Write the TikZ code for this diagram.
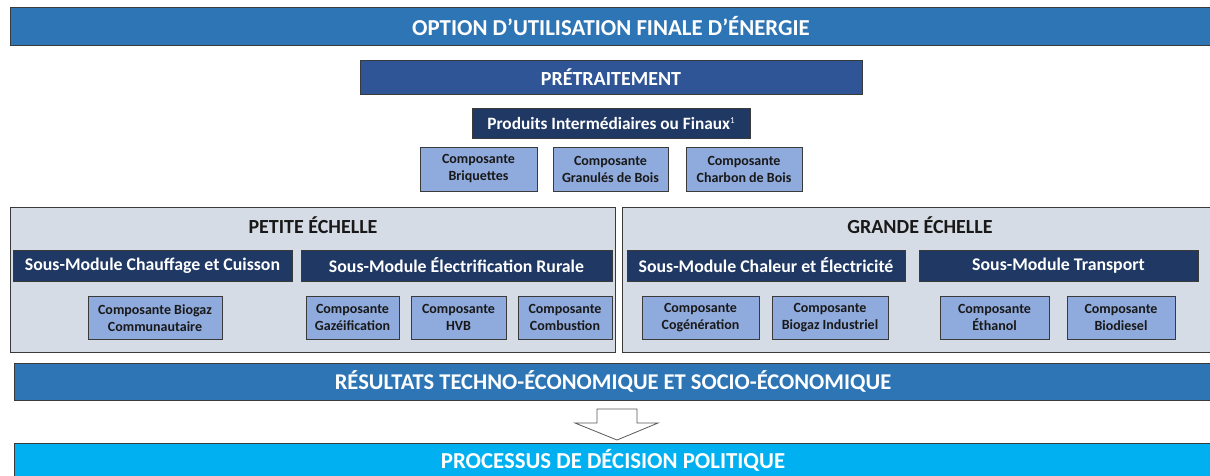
\documentclass[tikz,border=0pt]{standalone}
\usepackage{fontspec}
\setmainfont{Carlito}[Numbers=Lining]
\definecolor{barblue}{HTML}{2E75B6}
\definecolor{preblue}{HTML}{2F5597}
\definecolor{navy}{HTML}{1F3864}
\definecolor{compblue}{HTML}{8FAADC}
\definecolor{scalegray}{HTML}{D6DCE5}
\definecolor{cyanbar}{HTML}{00B0F0}
\definecolor{edge}{HTML}{3A3A3A}

\begin{document}
\begin{tikzpicture}[x=1pt,y=-1pt,
    box/.style={draw=edge, line width=0.8pt, inner sep=0pt, align=center},
    bar/.style={box, fill=barblue, text=white, font=\fontsize{22.8}{26}\selectfont\bfseries},
    submod/.style={box, fill=navy, text=white, minimum width=279pt, minimum height=31pt,
        font=\fontsize{17.8}{20}\selectfont\bfseries},
    comp/.style={box, fill=compblue, text=black!90, minimum height=43pt,
        font=\fontsize{14}{17}\selectfont\bfseries},
    scalebox/.style={box, fill=scalegray, minimum height=145pt},
    scaletitle/.style={font=\fontsize{20}{22}\selectfont\bfseries, text=black!90}]
    \useasboundingbox (0,0) rectangle (1210,475);
    \node[bar, minimum width=1202pt, minimum height=38pt] (option) at (611,26)
        {OPTION D’UTILISATION FINALE D’ÉNERGIE};
    \node[box, fill=preblue, text=white, minimum width=502pt, minimum height=34pt,
        font=\fontsize{20}{22}\selectfont\bfseries] (pretraitement) at (611,77.5) {PRÉTRAITEMENT};
    \node[box, fill=navy, text=white, minimum width=278pt, minimum height=30pt,
        font=\fontsize{17.3}{20}\selectfont\bfseries] (produits) at (611,123)
        {Produits Intermédiaires ou Finaux\raisebox{5.5pt}{\fontsize{9}{9}\selectfont\mdseries 1}};
    \node[comp, minimum width=117pt, minimum height=44pt] (briquettes) at (478.5,169) {Composante\\Briquettes};
    \node[comp, minimum width=115pt, minimum height=44pt] (granules) at (610.5,169) {Composante\\Granulés de Bois};
    \node[comp, minimum width=116pt, minimum height=44pt] (charbon) at (744,169) {Composante\\Charbon de Bois};
    \node[scalebox, minimum width=605pt] (petite) at (312.5,279.5) {};
    \node[scalebox, minimum width=590pt] (grande) at (917,279.5) {};
    \node[scaletitle] (petitetitle) at (313,225) {PETITE ÉCHELLE};
    \node[scaletitle] (grandetitle) at (920,225) {GRANDE ÉCHELLE};
    \node[submod] (chauffage) at (152.5,265.5) {Sous-Module Chauffage et Cuisson};
    \node[submod, minimum width=311pt] (electrif) at (456.5,265.5) {Sous-Module Électrification Rurale};
    \node[submod, minimum width=278pt] (chaleur) at (766,265.5) {Sous-Module Chaleur et Électricité};
    \node[submod] (transport) at (1058.5,265.5) {Sous-Module Transport};
    \node[comp, minimum width=134pt] (biogazcom) at (155,318) {Composante Biogaz\\Communautaire};
    \node[comp, minimum width=93pt] (gazeif) at (352.5,317.5) {Composante\\Gazéification};
    \node[comp, minimum width=95pt] (hvb) at (458.5,317.5) {Composante\\HVB};
    \node[comp, minimum width=94pt] (combustion) at (565,317.5) {Composante\\Combustion};
    \node[comp, minimum width=117pt] (cogen) at (700.5,317.5) {Composante\\Cogénération};
    \node[comp, minimum width=116pt] (biogazind) at (830,317.5) {Composante\\Biogaz Industriel};
    \node[comp, minimum width=109pt] (ethanol) at (994.5,317.5) {Composante\\Éthanol};
    \node[comp, minimum width=108pt] (biodiesel) at (1121,317.5) {Composante\\Biodiesel};
    \node[bar, minimum width=1198pt, minimum height=37pt, font=\fontsize{22.5}{26}\selectfont\bfseries]
        (resultats) at (613,381.5) {RÉSULTATS TECHNO-ÉCONOMIQUE ET SOCIO-ÉCONOMIQUE};
    \node[bar, fill=cyanbar, minimum width=1198pt, minimum height=34pt] (processus) at (613,460)
        {PROCESSUS DE DÉCISION POLITIQUE};
    \coordinate (tip) at (617,440);
    \draw[draw=black!65, fill=white, line width=0.8pt] (597,409) -- (637,409) -- (637,423)
        -- (658,423) -- (tip) -- (575,423) -- (597,423) -- cycle;
\end{tikzpicture}
\end{document}
